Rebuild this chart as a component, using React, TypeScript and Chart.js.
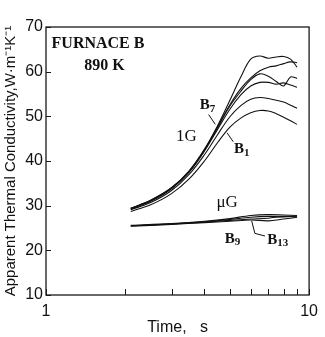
import React, { useEffect, useRef } from "react";
import { Chart, registerables } from "chart.js";

Chart.register(...registerables);

// time axis (s)
const tOneG = [2.1, 2.5, 3, 3.5, 4, 4.5, 5, 5.5, 6, 6.5, 7, 7.5, 8, 8.5, 9];
// 1G runs, apparent thermal conductivity (W m-1 K-1)
const g1 = [29.4, 31.2, 34.0, 37.8, 42.6, 48.0, 53.6, 58.8, 62.8, 63.5, 63.0, 63.3, 63.4, 62.8, 61.0];
const g2 = [29.4, 31.2, 34.0, 37.7, 42.5, 47.8, 52.6, 56.2, 58.6, 60.2, 61.0, 61.3, 61.8, 62.2, 62.0];
const g3 = [29.3, 31.1, 33.9, 37.6, 42.4, 47.6, 52.3, 55.6, 58.2, 59.5, 59.0, 57.8, 56.8, 58.8, 58.5];
const g4 = [29.3, 31.0, 33.8, 37.5, 42.2, 47.2, 51.6, 54.8, 56.8, 57.6, 57.6, 57.2, 57.5, 57.0, 56.5];
const g5 = [29.1, 30.7, 33.4, 37.0, 41.4, 46.0, 49.9, 52.4, 53.8, 54.2, 54.0, 53.6, 53.2, 52.5, 51.8];
const g6 = [28.7, 30.2, 32.7, 36.0, 40.0, 44.2, 47.6, 49.6, 50.8, 51.3, 51.2, 50.6, 49.8, 49.0, 48.2];

const tMuG = [2.1, 3, 4, 5, 6, 7, 8, 9];
const m1 = [25.6, 26.0, 26.5, 27.1, 27.8, 28.0, 27.9, 27.8];
const m2 = [25.5, 25.9, 26.4, 26.9, 27.4, 27.6, 27.5, 27.7];
const m3 = [25.5, 25.9, 26.3, 26.7, 27.0, 27.2, 27.6, 27.5];
const m4 = [25.4, 25.8, 26.2, 26.5, 26.8, 26.6, 27.0, 27.4];

const xTickValues = [1, 2, 3, 4, 5, 6, 7, 8, 9, 10];
const xLabelValues = [1, 10];
const yMin = 10;
const yMax = 70;
const yStep = 10;

const toPts = (xs: number[], ys: number[]) => xs.map((x, i) => ({ x, y: ys[i] }));

const serif = '"Liberation Serif", "Times New Roman", serif';
const sans = '"Liberation Sans", Arial, sans-serif';

const framePlugin = {
  id: "frame",
  afterDraw(chart: any) {
    const { ctx, chartArea: a, scales } = chart;
    const xs = scales.x;
    const ys = scales.y;
    ctx.save();
    ctx.strokeStyle = "#1a1a1a";
    ctx.lineWidth = 1.3;
    ctx.strokeRect(a.left, a.top, a.right - a.left, a.bottom - a.top);
    ctx.lineWidth = 1;
    // inward ticks
    xTickValues.forEach((v) => {
      const px = Math.round(xs.getPixelForValue(v)) + 0.5;
      ctx.beginPath();
      ctx.moveTo(px, a.bottom);
      ctx.lineTo(px, a.bottom - 6);
      ctx.stroke();
    });
    for (let v = yMin; v <= yMax; v += yStep) {
      const py = Math.round(ys.getPixelForValue(v)) + 0.5;
      ctx.beginPath();
      ctx.moveTo(a.left, py);
      ctx.lineTo(a.left + 5, py);
      ctx.stroke();
    }

    const P = (t: number, v: number) => [xs.getPixelForValue(t), ys.getPixelForValue(v)];
    const text = (s: string, t: number, v: number, font: string, align: CanvasTextAlign = "center") => {
      const [x, y] = P(t, v);
      ctx.font = font;
      ctx.textAlign = align;
      ctx.textBaseline = "middle";
      ctx.fillStyle = "#111";
      ctx.fillText(s, x, y);
    };
    const sub = (main: string, s: string, t: number, v: number, size: number) => {
      const [x, y] = P(t, v);
      ctx.font = `bold ${size}px ${serif}`;
      ctx.textBaseline = "middle";
      ctx.fillStyle = "#111";
      const w1 = ctx.measureText(main).width;
      ctx.font = `bold ${Math.round(size * 0.7)}px ${serif}`;
      const w2 = ctx.measureText(s).width;
      const x0 = x - (w1 + w2) / 2;
      ctx.textAlign = "left";
      ctx.font = `bold ${size}px ${serif}`;
      ctx.fillText(main, x0, y);
      ctx.font = `bold ${Math.round(size * 0.7)}px ${serif}`;
      ctx.fillText(s, x0 + w1, y + size * 0.22);
    };
    const line = (pts: number[][]) => {
      ctx.beginPath();
      pts.forEach(([t, v], i) => {
        const [x, y] = P(t, v);
        if (i === 0) ctx.moveTo(x, y);
        else ctx.lineTo(x, y);
      });
      ctx.strokeStyle = "#111";
      ctx.lineWidth = 1;
      ctx.stroke();
    };

    text("FURNACE B", 1.05, 66.3, `bold 16px ${serif}`, "left");
    text("890 K", 1.67, 61.2, `bold 16px ${serif}`);
    sub("B", "7", 4.11, 52.4, 15);
    line([[4.15, 50.4], [4.4, 48.2]]);
    text("1G", 3.42, 45.4, `17px ${serif}`);
    sub("B", "1", 5.55, 42.6, 15);
    line([[5.15, 44.3], [4.88, 46.3]]);
    text("\u03bcG", 4.88, 30.7, `17px ${serif}`);
    sub("B", "9", 5.11, 22.5, 15);
    sub("B", "13", 7.6, 22.3, 15);
    line([[6.05, 26.6], [6.22, 23.8], [6.8, 23.2]]);
    ctx.restore();
  },
};

export default function App() {
  const ref = useRef<HTMLCanvasElement>(null);
  useEffect(() => {
    if (!ref.current) return;
    const ds = (xs: number[], ys: number[], w: number) => ({
      data: toPts(xs, ys),
      showLine: true,
      borderColor: "#111",
      borderWidth: w,
      pointRadius: 0,
      tension: 0.35,
      fill: false,
    });
    const chart = new Chart(ref.current, {
      type: "scatter",
      data: {
        datasets: [
          ds(tOneG, g1, 1.1),
          ds(tOneG, g2, 1.1),
          ds(tOneG, g3, 1.1),
          ds(tOneG, g4, 1.1),
          ds(tOneG, g5, 1.1),
          ds(tOneG, g6, 1.1),
          ds(tMuG, m1, 1.1),
          ds(tMuG, m2, 1.1),
          ds(tMuG, m3, 1.1),
          ds(tMuG, m4, 1.1),
        ],
      },
      options: {
        animation: false,
        responsive: false,
        devicePixelRatio: 1,
        layout: { padding: { left: 2, right: 15, top: 27, bottom: 0 } },
        plugins: { legend: { display: false }, tooltip: { enabled: false } },
        scales: {
          x: {
            type: "logarithmic",
            min: 1,
            max: 10,
            afterBuildTicks: (s: any) => {
              s.ticks = xTickValues.map((v) => ({ value: v }));
            },
            afterFit: (s: any) => {
              s.height = 42;
            },
            grid: { display: false, drawTicks: false },
            border: { display: false },
            ticks: {
              autoSkip: false,
              maxRotation: 0,
              padding: 7,
              color: "#111",
              font: { family: sans, size: 16 },
              callback: (v: any) => (xLabelValues.includes(Number(v)) ? String(v) : ""),
            },
            title: {
              display: true,
              text: "Time,   s",
              color: "#111",
              font: { family: sans, size: 16 },
              padding: { top: 4, bottom: 0 },
            },
          },
          y: {
            type: "linear",
            min: yMin,
            max: yMax,
            afterFit: (s: any) => {
              s.width = 44;
            },
            grid: { display: false, drawTicks: false },
            border: { display: false },
            ticks: {
              stepSize: yStep,
              padding: 3,
              color: "#111",
              font: { family: sans, size: 16 },
            },
            title: {
              display: true,
              text: "Apparent Thermal Conductivity,W\u00b7m\u207b\u00b9K\u207b\u00b9",
              color: "#111",
              font: { family: sans, size: 15 },
              padding: { top: 0, bottom: 0 },
            },
          },
        },
      },
      plugins: [framePlugin],
    });
    return () => chart.destroy();
  }, []);
  return (
    <div style={{ position: "fixed", left: 0, top: 0, width: 325, height: 337, background: "#fff" }}>
      <canvas ref={ref} width={325} height={337} style={{ display: "block" }} />
    </div>
  );
}
